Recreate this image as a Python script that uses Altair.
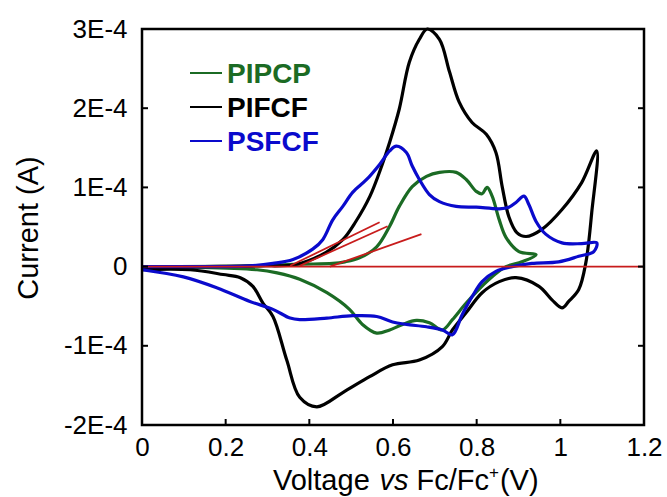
import altair as alt
import pandas as pd

# ---------------- data (voltage in V, current in units of 1E-4 A) ----------------
series_names = ["PIPCP", "PIFCF", "PSFCF"]
series_colors = ["#1b6b24", "#000000", "#0a0acc"]

pifcf_v = [0.0, 0.14, 0.28, 0.37, 0.44, 0.48, 0.51, 0.545, 0.573, 0.592, 0.615, 0.639, 0.663, 0.682,
           0.711, 0.735, 0.758, 0.789, 0.823, 0.846, 0.861, 0.877, 0.896, 0.918, 0.956, 1.004, 1.051, 1.087,
           1.075, 1.061, 1.044, 1.020, 1.004, 0.980, 0.949, 0.894, 0.854, 0.813, 0.775, 0.742, 0.718, 0.663,
           0.599, 0.544, 0.480, 0.418, 0.377, 0.346, 0.313, 0.289, 0.265, 0.235, 0.194, 0.115, 0.0]
pifcf_i = [-0.01, 0.0, 0.01, 0.03, 0.18, 0.34, 0.56, 0.89, 1.27, 1.57, 1.99, 2.58, 2.87, 3.0,
           2.87, 2.46, 2.08, 1.82, 1.67, 1.44, 1.01, 0.63, 0.43, 0.38, 0.47, 0.72, 1.06, 1.46,
           0.68, 0.05, -0.29, -0.44, -0.52, -0.42, -0.25, -0.14, -0.19, -0.33, -0.58, -0.80, -1.01, -1.18,
           -1.24, -1.39, -1.59, -1.77, -1.65, -1.18, -0.63, -0.46, -0.25, -0.14, -0.10, -0.04, -0.04]

pipcp_v = [0.0, 0.258, 0.377, 0.456, 0.485, 0.52, 0.561, 0.592, 0.615, 0.646, 0.680, 0.711, 0.751, 0.775,
           0.799, 0.813, 0.825, 0.837, 0.854, 0.870, 0.901, 0.942,
           0.908, 0.870, 0.830, 0.775, 0.742, 0.718, 0.687, 0.656, 0.623, 0.592, 0.561, 0.527, 0.496, 0.442,
           0.377, 0.323, 0.275, 0.139, 0.0]
pipcp_i = [0.0, 0.01, 0.03, 0.04, 0.06, 0.11, 0.25, 0.51, 0.76, 1.01, 1.14, 1.19, 1.19, 1.10,
           0.95, 0.92, 1.00, 0.89, 0.59, 0.37, 0.19, 0.15,
           0.06, 0.0, -0.16, -0.46, -0.67, -0.80, -0.71, -0.68, -0.73, -0.80, -0.84, -0.73, -0.54, -0.33,
           -0.16, -0.08, -0.04, -0.01, -0.01]

psfcf_v = [0.0, 0.258, 0.313, 0.361, 0.408, 0.432, 0.456, 0.480, 0.504, 0.537, 0.568, 0.592, 0.608, 0.632,
           0.646, 0.663, 0.687, 0.711, 0.751, 0.799, 0.854, 0.877, 0.894, 0.913, 0.925, 0.942, 0.965, 1.004,
           1.051, 1.087,
           1.080, 1.044, 0.996, 0.932, 0.885, 0.846, 0.813, 0.789, 0.765, 0.742, 0.718, 0.680, 0.632, 0.599,
           0.561, 0.504, 0.442, 0.377, 0.354, 0.313, 0.258, 0.180, 0.099, 0.0]
psfcf_i = [0.0, 0.01, 0.04, 0.09, 0.22, 0.34, 0.59, 0.76, 0.94, 1.10, 1.29, 1.46, 1.52, 1.44,
           1.27, 1.10, 0.91, 0.82, 0.76, 0.75, 0.73, 0.75, 0.81, 0.89, 0.78, 0.57, 0.41, 0.30,
           0.29, 0.30,
           0.19, 0.13, 0.06, 0.04, 0.0, -0.06, -0.19, -0.38, -0.61, -0.86, -0.80, -0.76, -0.73, -0.70,
           -0.63, -0.62, -0.65, -0.67, -0.65, -0.54, -0.44, -0.27, -0.13, -0.04]

# red guide lines: baseline and onset tangents
red_seg = ["base", "base", "t1", "t1", "t2", "t2", "t3", "t3"]
red_v = [0.0, 1.2, 0.354, 0.568, 0.377, 0.587, 0.449, 0.668]
red_i = [0.0, 0.0, 0.01, 0.56, 0.01, 0.51, 0.0, 0.41]

x_ticks = [0, 0.2, 0.4, 0.6, 0.8, 1.0, 1.2]
y_ticks = [-2, -1, 0, 1, 2, 3]

# ---------------- build tables ----------------
rows = []
for name, vv, ii in [("PIPCP", pipcp_v, pipcp_i), ("PIFCF", pifcf_v, pifcf_i), ("PSFCF", psfcf_v, psfcf_i)]:
    for k, (a, b) in enumerate(zip(vv, ii)):
        rows.append({"series": name, "idx": k, "v": a, "i": b})
cv = pd.DataFrame(rows)
red = pd.DataFrame({"seg": red_seg, "v": red_v, "i": red_i, "idx": list(range(len(red_v)))})

W, H = 502, 396
FONT = "Liberation Sans"

xscale = alt.Scale(domain=[0, 1.2], nice=False, zero=False)
yscale = alt.Scale(domain=[-2, 3], nice=False, zero=False)
cscale = alt.Scale(domain=series_names, range=series_colors)

xaxis = alt.Axis(values=x_ticks, title=None, grid=False, domain=False, tickSize=0,
                 labelFontSize=26, labelFont=FONT, labelColor="black", labelPadding=9,
                 labelExpr="format(datum.value, '~g')", labelFlush=False, labelOverlap=False)
yaxis = alt.Axis(values=y_ticks, title=None, grid=False, domain=False, tickSize=0,
                 labelFontSize=26, labelFont=FONT, labelColor="black", labelPadding=15,
                 labelExpr="datum.value == 0 ? '0' : datum.value + 'E-4'", labelFlush=False,
                 labelOverlap=False)

curves = alt.Chart(cv).mark_line(strokeWidth=3.2, interpolate="catmull-rom").encode(
    x=alt.X("v:Q", scale=xscale, axis=xaxis),
    y=alt.Y("i:Q", scale=yscale, axis=yaxis),
    color=alt.Color("series:N", scale=cscale, legend=None),
    detail="series:N",
    order="idx:Q",
)

redlines = alt.Chart(red).mark_line(strokeWidth=1.8, color="#c81c1c").encode(
    x=alt.X("v:Q", scale=xscale),
    y=alt.Y("i:Q", scale=yscale),
    detail="seg:N",
    order="idx:Q",
)

tx = pd.DataFrame({"t": x_ticks[1:-1]})
ty = pd.DataFrame({"t": y_ticks[1:-1]})
bottom_ticks = alt.Chart(tx).mark_rule(color="black", strokeWidth=2).encode(
    x=alt.X("t:Q", scale=xscale), y=alt.value(H), y2=alt.value(H - 6))
left_ticks = alt.Chart(ty).mark_rule(color="black", strokeWidth=2).encode(
    y=alt.Y("t:Q", scale=yscale), x=alt.value(0), x2=alt.value(6))
right_ticks = alt.Chart(ty).mark_rule(color="black", strokeWidth=2).encode(
    y=alt.Y("t:Q", scale=yscale), x=alt.value(W), x2=alt.value(W - 6))

# plot frame
frame = alt.Chart(pd.DataFrame({"t": [0]})).mark_rect(
    fill=None, stroke="black", strokeWidth=2.5).encode(
    x=alt.value(0), x2=alt.value(W), y=alt.value(0), y2=alt.value(H))

# legend
legend_layers = []
leg_y = [45, 79, 113]
for name, col, yy in zip(series_names, series_colors, leg_y):
    d = pd.DataFrame({"t": [name]})
    legend_layers.append(alt.Chart(d).mark_rule(color=col, strokeWidth=2).encode(
        x=alt.value(48), x2=alt.value(80), y=alt.value(yy - 1)))
    legend_layers.append(alt.Chart(d).mark_text(
        color=col, font=FONT, fontSize=28, fontWeight="bold", align="left", baseline="middle").encode(
        text="t:N", x=alt.value(85), y=alt.value(yy + 1)))

# axis titles (mixed styles)
TF = 29
SP = 0.278 * TF
title_parts = ["Voltage", "vs", "Fc/Fc", "+", "(V)"]
widths = [3.391 * TF + SP, 1.0 * TF + SP, 2.5 * TF, 0.584 * 17 + 1, 1.333 * TF]
x0 = 131
base_y = 461
title_layers = []
cur = x0
for p, w in zip(title_parts, widths):
    d = pd.DataFrame({"t": [p]})
    style = dict(font=FONT, fontSize=TF, color="black", align="left", baseline="alphabetic")
    yy = base_y
    if p == "vs":
        style["fontStyle"] = "italic"
    if p == "+":
        style["fontSize"] = 17
        yy = base_y - 12
    title_layers.append(alt.Chart(d).mark_text(**style).encode(
        text="t:N", x=alt.value(cur), y=alt.value(yy)))
    cur += w

ytitle = alt.Chart(pd.DataFrame({"t": ["Current (A)"]})).mark_text(
    font=FONT, fontSize=TF, color="black", angle=270, align="center", baseline="middle").encode(
    text="t:N", x=alt.value(-113), y=alt.value(199))

chart = alt.layer(
    curves, redlines, bottom_ticks, left_ticks, right_ticks, frame,
    *legend_layers, *title_layers, ytitle
).properties(
    width=W, height=H,
    background="white",
    autosize=alt.AutoSizeParams(type="none"),
    padding={"left": 142, "top": 29, "right": 23, "bottom": 72},
).configure_view(stroke=None)

chart.save("out.html", embed_options={"renderer": "svg", "actions": False})
